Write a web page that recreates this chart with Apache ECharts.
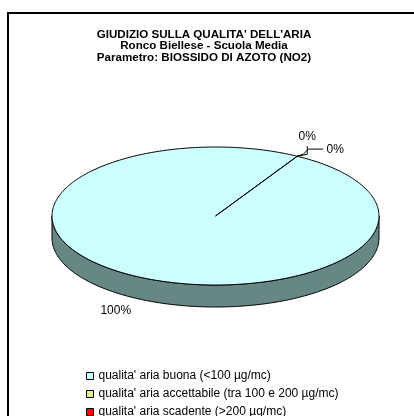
<!DOCTYPE html>
<html>
<head>
<meta charset="utf-8">
<style>
html, body { margin: 0; padding: 0; background: #fff; }
#main { width: 414px; height: 416px; }
</style>
<script src="https://cdn.jsdelivr.net/npm/echarts@6/dist/echarts.min.js"></script>
</head>
<body>
<div id="main"></div>
<script>
// classi di qualita' e percentuali
const categories = [
  "qualita' aria buona (<100 µg/mc)",
  "qualita' aria accettabile (tra 100 e 200 µg/mc)",
  "qualita' aria scadente (>200 µg/mc)"
]
const values = [100, 0, 0]
const titleLines = [
  "GIUDIZIO SULLA QUALITA' DELL'ARIA",
  'Ronco Biellese - Scuola Media',
  'Parametro: BIOSSIDO DI AZOTO (NO2)'
]

const FONT = "'Liberation Sans', Arial, sans-serif"
const cx = 215.5, cy = 216, rx = 163.5, ry = 69, depth = 22
const startDeg = 30 // rotazione della prima fetta (da ore 12, senso orario)

// retino giallo per la classe "accettabile"
function makePattern() {
  const c = document.createElement('canvas')
  c.width = 2; c.height = 2
  const g = c.getContext('2d')
  g.fillStyle = '#ffff99'; g.fillRect(0, 0, 2, 2)
  g.fillStyle = '#aaaa77'; g.fillRect(0, 0, 1, 1)
  return { image: c, repeat: 'repeat' }
}
const topColors = ['#ccffff', makePattern(), '#ff0000']
const sideColors = ['#678784', '#808050', '#800000']

const total = values.reduce((s, v) => s + v, 0)
const cum = values.map((v, i) => values.slice(0, i).reduce((s, x) => s + x, 0))

const rad = d => d * Math.PI / 180
function pt(deg, k, dy) {
  return [cx + rx * k * Math.sin(rad(deg)), cy - ry * k * Math.cos(rad(deg)) + dy]
}
function arc(s, e, dy) {
  const n = Math.max(2, Math.ceil(Math.abs(e - s)))
  const out = []
  for (let j = 0; j <= n; j++) out.push(pt(s + (e - s) * j / n, 1, dy))
  return out
}

// spostamenti etichette (le fette a 0% sono sfalsate come in Excel)
const labelShift = [[0, 0], [-8, -6], [20, 7]]

function renderSlice(i) {
  return function (params, api) {
    const v = api.value(0)
    const a = startDeg + 360 * cum[i] / total
    const b = a + 360 * v / total
    const children = []

    // fianco visibile (meta' anteriore)
    ;[[90, 270], [450, 630]].forEach(r => {
      const s = Math.max(a, r[0]), e = Math.min(b, r[1])
      if (e > s) {
        children.push({
          type: 'polygon',
          shape: { points: arc(s, e, 0).concat(arc(e, s, depth)) },
          style: { fill: sideColors[i], stroke: '#000', lineWidth: 1 }
        })
      }
    })

    // faccia superiore
    if (v > 0) {
      children.push({
        type: 'polygon',
        shape: { points: [[cx, cy]].concat(arc(a, b, 0)) },
        style: { fill: topColors[i], stroke: '#000', lineWidth: 1 }
      })
    }

    // etichetta percentuale
    const mid = (a + b) / 2
    const p = pt(mid, 1.22, Math.cos(rad(mid)) < 0 ? depth : 0)
    const lx = p[0] + labelShift[i][0], ly = p[1] + labelShift[i][1]
    children.push({
      type: 'text',
      style: {
        x: lx, y: ly, text: Math.round(v / total * 100) + '%',
        fill: '#000', font: '12px ' + FONT, align: 'center', verticalAlign: 'middle'
      }
    })

    // linee guida per le fette vuote
    if (v === 0) {
      const E = pt(mid, 1, 0)
      const pts = i === 1
        ? [E, [lx, E[1] - 2], [lx, ly + 9]]
        : [E, [E[0] + 6, E[1] - 2], [E[0] + 11, ly - 1], [lx - 12, ly - 1]]
      children.push({
        type: 'polyline',
        shape: { points: pts },
        style: { stroke: '#000', lineWidth: 1, fill: null }
      })
    }
    return { type: 'group', children: children }
  }
}

const myChart = echarts.init(document.getElementById('main'))
myChart.setOption({
  animation: false,
  title: {
    text: titleLines.join('\n'),
    left: 204,
    top: 28.5,
    padding: 0,
    textAlign: 'center',
    textStyle: {
      fontFamily: FONT,
      fontSize: 11.6,
      fontWeight: 'bold',
      lineHeight: 11.7,
      color: '#000'
    }
  },
  legend: {
    orient: 'vertical',
    left: 86,
    top: 370,
    height: 80,
    padding: 0,
    itemWidth: 7,
    itemHeight: 7,
    itemGap: 6,
    icon: 'rect',
    selectedMode: false,
    itemStyle: { borderColor: '#000', borderWidth: 1 },
    textStyle: { fontFamily: FONT, fontSize: 12, lineHeight: 12, color: '#000' },
    data: categories
  },
  graphic: [{
    type: 'rect',
    shape: { x: 8, y: 13, width: 420, height: 420 },
    style: { fill: null, stroke: '#000', lineWidth: 2 },
    silent: true
  }],
  series: categories.map((name, i) => ({
    type: 'custom',
    name: name,
    coordinateSystem: 'none',
    itemStyle: { color: topColors[i] },
    renderItem: renderSlice(i),
    data: [values[i]]
  }))
})
</script>
</body>
</html>
